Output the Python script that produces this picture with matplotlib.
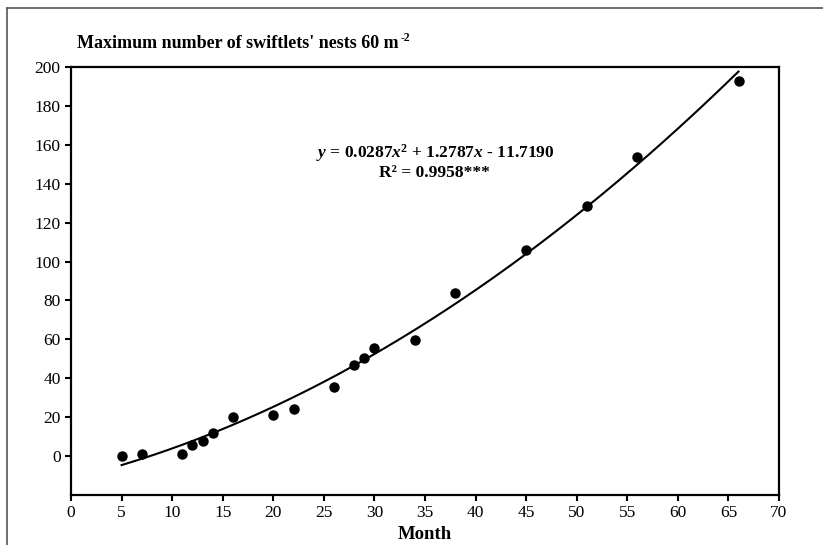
import numpy as np
import matplotlib
matplotlib.use('Agg')
import matplotlib.pyplot as plt
from matplotlib.lines import Line2D

# --- data ---
month = [5, 7, 11, 12, 13, 14, 16, 20, 22, 26, 28, 29, 30, 34, 38, 45, 51, 56, 66]
nests = [0, 1, 1, 5.5, 8, 12, 20, 21, 24, 35.5, 47, 50.5, 55.5, 59.5, 84, 106, 128.5, 154, 193]

# fitted quadratic shown on the chart
coef = [0.0287, 1.2787, -11.7190]
eq_text = r'$\mathbfit{y}$ = 0.0287$\mathbfit{x}^\mathbf{2}$ + 1.2787$\mathbfit{x}$ - 11.7190'
r2_text = 'R² = 0.9958***'

x_ticks = list(range(0, 75, 5))
y_ticks = list(range(0, 220, 20))

plt.rcParams['font.family'] = ['Liberation Serif', 'DejaVu Serif']
plt.rcParams['mathtext.fontset'] = 'custom'
plt.rcParams['mathtext.rm'] = 'Liberation Serif:bold'
plt.rcParams['mathtext.bf'] = 'Liberation Serif:bold'
plt.rcParams['mathtext.it'] = 'Liberation Serif:italic:bold'
plt.rcParams['mathtext.bfit'] = 'Liberation Serif:italic:bold'

fig = plt.figure(figsize=(8.23, 5.45), dpi=100)
ax = fig.add_axes([0.0863, 0.0917, 0.8602, 0.7853])

# trend line over the observed range
xs = np.linspace(min(month), max(month), 200)
ax.plot(xs, np.polyval(coef, xs), color='black', linewidth=1.5)
ax.plot(month, nests, 'o', color='black', markersize=6.5)

ax.set_xlim(0, 70)
ax.set_ylim(-20, 200)
ax.set_xticks(x_ticks)
ax.set_yticks(y_ticks)
ax.tick_params(direction='out', length=4, width=1.5, labelsize=12.5, colors='black')
for sp in ax.spines.values():
    sp.set_linewidth(1.6)

ax.set_xlabel('Month', fontsize=13.5, fontweight='bold', labelpad=3)

ax.text(0.514, 0.799, eq_text, transform=ax.transAxes, ha='center', va='center',
        fontsize=12.5, fontweight='bold')
ax.text(0.514, 0.752, r2_text, transform=ax.transAxes, ha='center', va='center',
        fontsize=12.5, fontweight='bold')

title = fig.text(0.094, 0.921, "Maximum number of swiftlets' nests 60 m",
                 ha='left', va='center', fontsize=13, fontweight='bold')
# superscript "-2" placed right after the title text
ax.annotate('-2', xy=(1, 0.78), xycoords=title, xytext=(1, 0), textcoords='offset points',
            fontsize=8.5, fontweight='bold', ha='left', va='center', annotation_clip=False)

# outer frame (left and top edges visible)
fig.add_artist(Line2D([0.0085, 0.0085], [0.0, 0.985], color='#555555', linewidth=1.2))
fig.add_artist(Line2D([0.0085, 1.0], [0.985, 0.985], color='#555555', linewidth=1.2))

plt.savefig('out.png', dpi=100)
